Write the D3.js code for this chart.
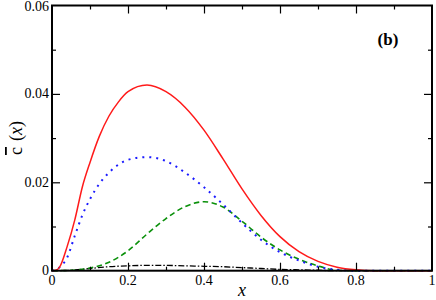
<!DOCTYPE html>
<html>
<head>
<meta charset="utf-8">
<script src="https://cdn.jsdelivr.net/npm/d3@7"></script>
<style>
  body { margin: 0; background: #fff; }
</style>
</head>
<body>
<div id="vis-display"></div>
<script>
// Panel (b): c̄(x) curves, four series on x ∈ [0, 1].

const X_RED   = [0, 0.01, 0.02, 0.04, 0.06, 0.08, 0.1, 0.125, 0.15, 0.175, 0.2, 0.25, 0.3, 0.35, 0.4, 0.45, 0.5, 0.55, 0.6, 0.65, 0.7, 0.75, 0.8, 0.85, 1];
const Y_RED   = [0, 0.0001, 0.0008, 0.0055, 0.0115, 0.019, 0.0245, 0.0305, 0.035, 0.0382, 0.0405, 0.042, 0.0405, 0.037, 0.0318, 0.0253, 0.0185, 0.0125, 0.0077, 0.0043, 0.0021, 0.0008, 0.0002, 0, 0];

const X_BLUE  = [0, 0.02, 0.04, 0.06, 0.08, 0.1, 0.125, 0.15, 0.175, 0.2, 0.25, 0.3, 0.35, 0.4, 0.45, 0.5, 0.55, 0.6, 0.65, 0.7, 0.75, 0.8, 1];
const Y_BLUE  = [0, 0.0008, 0.003, 0.0079, 0.0126, 0.0162, 0.0197, 0.0222, 0.024, 0.0251, 0.0257, 0.0248, 0.0222, 0.0189, 0.015, 0.0108, 0.007, 0.0042, 0.0023, 0.0009, 0.0002, 0, 0];

const X_GREEN = [0, 0.05, 0.1, 0.15, 0.2, 0.25, 0.3, 0.35, 0.4, 0.45, 0.5, 0.55, 0.6, 0.65, 0.7, 0.75, 0.8, 1];
const Y_GREEN = [0, 0.0001, 0.0006, 0.0019, 0.0045, 0.0083, 0.0118, 0.0145, 0.0156, 0.0144, 0.0112, 0.0076, 0.0047, 0.0026, 0.0011, 0.0001, 0, 0];

const X_BLACK = [0, 0.05, 0.1, 0.15, 0.2, 0.25, 0.3, 0.35, 0.4, 0.45, 0.5, 0.55, 0.6, 0.65, 0.7, 0.75, 1];
const Y_BLACK = [0, 0.0001, 0.0005, 0.0009, 0.0011, 0.0012, 0.0012, 0.0011, 0.001, 0.0009, 0.0007, 0.0005, 0.0003, 0.0002, 0.0001, 0, 0];

const X_TICKS = [0, 0.2, 0.4, 0.6, 0.8, 1];
const X_TICK_LABELS = ["0", "0.2", "0.4", "0.6", "0.8", "1"];
const Y_TICKS = [0, 0.02, 0.04, 0.06];
const Y_TICK_LABELS = ["0", "0.02", "0.04", "0.06"];

const FONT = '"Liberation Serif"';

const W = 436, H = 300;
const margin = { top: 5.5, right: 4, bottom: 29.3, left: 52 };
const innerW = W - margin.left - margin.right;
const innerH = H - margin.top - margin.bottom;

const x = d3.scaleLinear().domain([0, 1]).range([0, innerW]);
const y = d3.scaleLinear().domain([0, 0.06]).range([innerH, 0]);

const svg = d3.select("#vis-display").append("svg")
  .attr("width", W).attr("height", H);

const g = svg.append("g")
  .attr("transform", `translate(${margin.left},${margin.top})`);

// ── Curves ────────────────────────────────────────────────────────────────
const series = [
  { xs: X_BLACK, ys: Y_BLACK, color: "#000",    dash: "6,2,1.5,2", w: 1.3 },
  { xs: X_GREEN, ys: Y_GREEN, color: "#0a900a", dash: "5.5,3.5",   w: 1.6 },
  { xs: X_BLUE,  ys: Y_BLUE,  color: "#1a1aff", dash: "2,5",       w: 2 },
  { xs: X_RED,   ys: Y_RED,   color: "#ff1a1a", dash: null,        w: 1.5 },
];

const line = d3.line()
  .x(d => x(d[0])).y(d => y(d[1]))
  .curve(d3.curveMonotoneX);

series.forEach(s => {
  g.append("path")
    .datum(s.xs.map((v, i) => [v, s.ys[i]]))
    .attr("fill", "none")
    .attr("stroke", s.color)
    .attr("stroke-width", s.w)
    .attr("stroke-dasharray", s.dash)
    .attr("d", line);
});

// ── Axes (ticks pointing inward, mirrored on top/right) ──────────────────
const xMinor = d3.range(0.1, 1, 0.2);
const yMinor = [0.01, 0.03, 0.05];
const MAJ = 8, MIN = 4;

function ticks(axisFn, scale, major, minor) {
  const a = g.append("g");
  a.call(axisFn(scale).tickValues(major).tickSize(-MAJ).tickFormat(""));
  a.append("g").call(axisFn(scale).tickValues(minor).tickSize(-MIN).tickFormat(""));
  a.selectAll(".domain").remove();
  a.selectAll("text").remove();
  a.selectAll("line").attr("stroke", "#000").attr("stroke-width", 1.2);
  return a;
}

ticks(d3.axisBottom, x, X_TICKS.slice(1, -1), xMinor).attr("transform", `translate(0,${innerH})`);
ticks(d3.axisTop, x, X_TICKS.slice(1, -1), xMinor);
ticks(d3.axisLeft, y, Y_TICKS.slice(1, -1), yMinor);
ticks(d3.axisRight, y, Y_TICKS.slice(1, -1), yMinor).attr("transform", `translate(${innerW},0)`);

// frame
g.append("rect")
  .attr("width", innerW).attr("height", innerH)
  .attr("fill", "none").attr("stroke", "#000").attr("stroke-width", 2);

// tick labels
const labels = svg.append("g");

labels.selectAll("text.xl").data(X_TICKS).join("text")
  .attr("class", "xl")
  .attr("x", d => margin.left + x(d)).attr("y", margin.top + innerH + 14)
  .attr("text-anchor", "middle")
  .style("font-family", FONT).style("font-size", "14px")
  .text((d, i) => X_TICK_LABELS[i]);

labels.selectAll("text.yl").data(Y_TICKS).join("text")
  .attr("class", "yl")
  .attr("x", margin.left - 3).attr("y", d => Math.max(11, margin.top + y(d) + 4.5))
  .attr("text-anchor", "end")
  .style("font-family", FONT).style("font-size", "14px")
  .text((d, i) => Y_TICK_LABELS[i]);

// axis labels
svg.append("text")
  .attr("x", margin.left + innerW / 2).attr("y", 296)
  .attr("text-anchor", "middle")
  .style("font-family", FONT).style("font-size", "18px").style("font-style", "italic")
  .text("x");

const yl = svg.append("text")
  .attr("transform", "translate(22,138) rotate(-90)")
  .attr("text-anchor", "middle")
  .style("font-family", FONT).style("font-size", "18px");
yl.append("tspan").attr("text-decoration", "overline").text("c");
yl.append("tspan").attr("dx", 6).text("(");
yl.append("tspan").style("font-style", "italic").text("x");
yl.append("tspan").text(")");

svg.append("text")
  .attr("x", 388).attr("y", 45)
  .attr("text-anchor", "middle")
  .style("font-family", FONT).style("font-size", "17px").style("font-weight", "bold")
  .text("(b)");
</script>
</body>
</html>
